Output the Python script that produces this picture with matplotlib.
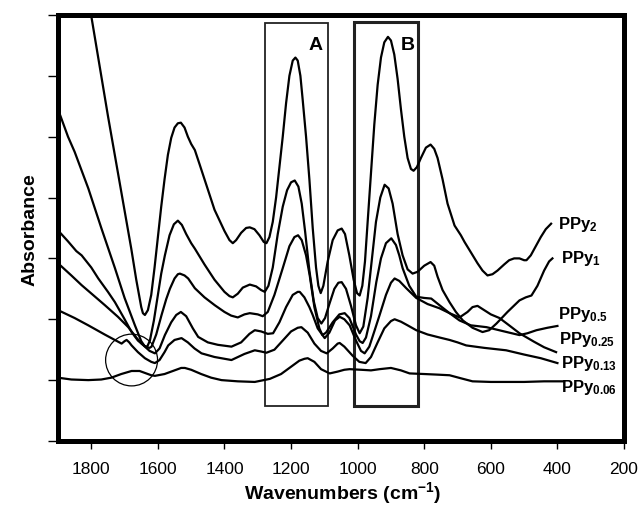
import matplotlib
matplotlib.use("Agg")
import matplotlib.pyplot as plt
from matplotlib.patches import Rectangle, Ellipse

plt.rcParams["font.family"] = ["Liberation Sans", "DejaVu Sans"]
plt.rcParams["mathtext.fontset"] = "custom"
plt.rcParams["mathtext.bf"] = "Liberation Sans:bold"
plt.rcParams["mathtext.rm"] = "Liberation Sans:bold"
plt.rcParams["mathtext.default"] = "bf"

# spectra: wavenumber (cm-1) and absorbance (arbitrary units)
wn_ppy2 = [1900, 1800, 1750, 1680, 1665, 1650, 1645, 1639, 1630, 1620, 1610, 1600, 1590,
           1580, 1570, 1560, 1550, 1540, 1531, 1520, 1510, 1500, 1489, 1475, 1460, 1430,
           1400, 1385, 1375, 1365, 1350, 1335, 1324, 1310, 1295, 1282, 1274, 1265, 1255,
           1245, 1235, 1225, 1215, 1205, 1195, 1187, 1180, 1172, 1165, 1155, 1145, 1135,
           1125, 1118, 1111, 1103, 1090, 1075, 1060, 1048, 1038, 1025, 1012, 1002, 994,
           986, 978, 970, 960, 950, 940, 930, 920, 909, 900, 890, 880, 870, 860, 850,
           840, 832, 822, 810, 795, 781, 770, 760, 745, 730, 709, 690, 679, 660, 640,
           625, 610, 595, 580, 560, 545, 530, 514, 500, 493, 480, 465, 450, 435, 419]
ab_ppy2 = [10.3, 6.98, 5.34, 3.16, 2.65, 2.2, 2.1, 2.07, 2.15, 2.4, 2.85, 3.35, 3.85,
           4.3, 4.7, 4.98, 5.15, 5.22, 5.23, 5.15, 5.0, 4.88, 4.78, 4.55, 4.3, 3.8,
           3.45, 3.3, 3.25, 3.3, 3.42, 3.5, 3.51, 3.48, 3.38, 3.27, 3.25, 3.35, 3.6,
           4.0, 4.5, 5.0, 5.55, 6.0, 6.25, 6.30, 6.25, 6.0, 5.6, 5.0, 4.3, 3.5,
           2.85, 2.55, 2.43, 2.55, 2.95, 3.3, 3.46, 3.49, 3.4, 3.05, 2.65, 2.43, 2.39,
           2.55, 2.95, 3.6, 4.4, 5.2, 5.85, 6.3, 6.55, 6.64, 6.58, 6.35, 5.95, 5.45, 5.0, 4.65,
           4.47, 4.44, 4.5, 4.65, 4.82, 4.87, 4.8, 4.65, 4.3, 3.9, 3.54, 3.38, 3.27, 3.1, 2.92,
           2.8, 2.72, 2.74, 2.8, 2.9, 2.97, 3.0, 3.0, 2.97, 2.97, 3.05, 3.2, 3.35, 3.48, 3.57]

wn_ppy1 = [1900, 1870, 1850, 1809, 1770, 1729, 1700, 1669, 1650, 1640, 1632, 1624, 1612,
           1600, 1590, 1579, 1565, 1552, 1540, 1528, 1515, 1500, 1489, 1460, 1430, 1400,
           1385, 1375, 1360, 1345, 1324, 1305, 1290, 1279, 1268, 1255, 1240, 1225, 1212,
           1200, 1189, 1178, 1168, 1158, 1145, 1132, 1120, 1109, 1098, 1085, 1070, 1058,
           1048, 1035, 1020, 1005, 994, 983, 970, 958, 945, 932, 919, 907, 895, 880, 865,
           850, 835, 820, 800, 781, 770, 760, 745, 724, 705, 684, 655, 625, 605, 583, 550,
           514, 495, 478, 460, 440, 425, 415]
ab_ppy1 = [5.45, 5.0, 4.75, 4.15, 3.5, 2.84, 2.35, 1.9, 1.64, 1.56, 1.55, 1.65, 1.98,
           2.4, 2.75, 3.05, 3.38, 3.56, 3.62, 3.55, 3.4, 3.25, 3.16, 2.9, 2.65, 2.45,
           2.38, 2.36, 2.42, 2.52, 2.57, 2.54, 2.48, 2.45, 2.55, 2.85, 3.4, 3.85, 4.12,
           4.25, 4.28, 4.18, 3.9, 3.45, 2.8, 2.3, 2.02, 1.93, 2.02, 2.25, 2.5, 2.6,
           2.61, 2.5, 2.22, 1.9, 1.77, 1.88, 2.35, 2.95, 3.6, 4.0, 4.21, 4.15, 3.9, 3.4, 3.05,
           2.82, 2.75, 2.78, 2.88, 2.94, 2.88, 2.7, 2.48, 2.28, 2.12, 1.98, 1.86, 1.79, 1.82, 1.93, 2.12,
           2.31, 2.36, 2.39, 2.55, 2.8, 2.95, 3.0]

wn_ppy05 = [1900, 1870, 1845, 1829, 1800, 1779, 1750, 1729, 1700, 1679, 1660, 1649, 1635,
            1625, 1619, 1605, 1589, 1575, 1564, 1550, 1540, 1534, 1520, 1509, 1489, 1460,
            1429, 1400, 1380, 1360, 1340, 1324, 1300, 1285, 1270, 1250, 1225, 1205, 1190,
            1179, 1168, 1155, 1144, 1130, 1115, 1106, 1095, 1075, 1055, 1039, 1025, 1005,
            994, 985, 975, 960, 944, 930, 915, 899, 885, 875, 865, 845, 824, 800, 779, 754,
            724, 694, 660, 613, 560, 514, 490, 463, 430, 400]
ab_ppy05 = [3.46, 3.28, 3.12, 3.05, 2.85, 2.67, 2.45, 2.28, 2.0, 1.79, 1.65, 1.6, 1.54,
            1.53, 1.55, 1.75, 2.07, 2.33, 2.5, 2.67, 2.74, 2.75, 2.72, 2.67, 2.51, 2.36,
            2.23, 2.12, 2.06, 2.03, 2.08, 2.10, 2.08, 2.05, 2.12, 2.4, 2.84, 3.2, 3.35,
            3.38, 3.3, 3.05, 2.72, 2.2, 1.85, 1.74, 1.78, 1.95, 2.08, 2.10, 2.02, 1.75,
            1.64, 1.61, 1.7, 2.05, 2.61, 3.0, 3.25, 3.33, 3.22, 3.05, 2.84, 2.55, 2.37, 2.35, 2.34, 2.23,
            2.1, 1.98, 1.9, 1.87, 1.8, 1.74, 1.77, 1.82, 1.86, 1.89]

wn_ppy025 = [1900, 1860, 1829, 1795, 1759, 1720, 1689, 1665, 1649, 1625, 1609, 1595, 1579,
             1560, 1545, 1531, 1515, 1495, 1479, 1450, 1420, 1379, 1350, 1325, 1309, 1290,
             1270, 1254, 1235, 1215, 1195, 1180, 1174, 1160, 1145, 1135, 1120, 1099, 1085,
             1068, 1054, 1040, 1024, 1005, 990, 979, 965, 950, 934, 915, 900, 889, 875, 854,
             824, 790, 754, 724, 694, 670, 655, 640, 620, 600, 574, 545, 514, 470, 440, 404]
ab_ppy025 = [2.92, 2.72, 2.56, 2.4, 2.23, 2.04, 1.87, 1.7, 1.6, 1.48, 1.44, 1.52, 1.74,
             1.95, 2.07, 2.12, 2.05, 1.85, 1.71, 1.62, 1.58, 1.55, 1.62, 1.76, 1.82, 1.8,
             1.76, 1.77, 1.95, 2.2, 2.4, 2.45, 2.45, 2.36, 2.2, 2.07, 1.85, 1.69, 1.78,
             1.98, 2.04, 2.0, 1.9, 1.65, 1.48, 1.44, 1.55, 1.8, 2.07, 2.4, 2.6, 2.67, 2.63, 2.51,
             2.35, 2.25, 2.18, 2.1, 2.03, 2.12, 2.2, 2.22, 2.15, 2.08, 2.02, 1.9, 1.77, 1.63, 1.54, 1.46]

wn_ppy013 = [1900, 1850, 1809, 1760, 1709, 1700, 1694, 1686, 1679, 1660, 1639, 1620, 1609,
             1595, 1580, 1569, 1550, 1529, 1510, 1490, 1469, 1430, 1379, 1340, 1309, 1290,
             1274, 1250, 1225, 1200, 1180, 1169, 1150, 1130, 1110, 1093, 1075, 1060, 1054,
             1040, 1015, 995, 976, 960, 940, 920, 900, 889, 870, 850, 824, 790, 754, 724,
             700, 674, 620, 554, 500, 450, 400]
ab_ppy013 = [2.15, 2.02, 1.9, 1.75, 1.6, 1.64, 1.66, 1.62, 1.57, 1.46, 1.36, 1.3, 1.28,
             1.33, 1.46, 1.57, 1.66, 1.69, 1.62, 1.52, 1.44, 1.38, 1.33, 1.43, 1.49, 1.47,
             1.45, 1.5, 1.65, 1.8, 1.86, 1.87, 1.78, 1.6, 1.48, 1.44, 1.52, 1.6, 1.61,
             1.55, 1.4, 1.3, 1.28, 1.38, 1.62, 1.85, 1.97, 2.0, 1.96, 1.9, 1.82, 1.75, 1.7, 1.66,
             1.62, 1.57, 1.53, 1.49, 1.42, 1.36, 1.28]

wn_ppy006 = [1900, 1860, 1809, 1770, 1740, 1710, 1679, 1655, 1640, 1620, 1609, 1580, 1550,
             1530, 1519, 1500, 1470, 1440, 1409, 1360, 1309, 1264, 1230, 1200, 1175, 1160,
             1150, 1130, 1110, 1084, 1060, 1040, 1024, 990, 960, 934, 900, 870, 844, 800,
             760, 724, 690, 655, 600, 550, 500, 440, 380]
ab_ppy006 = [1.04, 1.01, 1.0, 1.01, 1.04, 1.1, 1.15, 1.15, 1.12, 1.08, 1.07, 1.1, 1.16,
             1.2, 1.2, 1.17, 1.1, 1.04, 1.0, 0.98, 0.97, 1.02, 1.1, 1.22, 1.32, 1.35,
             1.36, 1.3, 1.18, 1.11, 1.14, 1.17, 1.18, 1.17, 1.16, 1.18, 1.2, 1.16, 1.11, 1.1,
             1.09, 1.08, 1.03, 0.98, 0.97, 0.97, 0.97, 0.98, 0.98]

labels = ["PPy$_{2}$", "PPy$_{1}$", "PPy$_{0.5}$", "PPy$_{0.25}$", "PPy$_{0.13}$", "PPy$_{0.06}$"]
label_x = [397, 389, 397, 394, 389, 389]
label_y = [3.48, 2.92, 2.01, 1.60, 1.20, 0.80]

series = [(wn_ppy2, ab_ppy2), (wn_ppy1, ab_ppy1), (wn_ppy05, ab_ppy05),
          (wn_ppy025, ab_ppy025), (wn_ppy013, ab_ppy013), (wn_ppy006, ab_ppy006)]

fig = plt.figure(figsize=(6.41, 5.21), dpi=100)
ax = fig.add_axes([0.0905, 0.1536, 0.883, 0.8177])

for wn, ab in series:
    ax.plot(wn, ab, color="black", lw=1.6, solid_joinstyle="round")

for text, x, y in zip(labels, label_x, label_y):
    ax.text(x, y, text, fontsize=12, fontweight="bold", ha="left", va="baseline")

# marked bands A and B, and the circled isosbestic region
ax.add_patch(Rectangle((1089, 0.58), 190, 6.29, fill=False, lw=1.3, ec="#222222"))
ax.add_patch(Rectangle((819, 0.58), 192, 6.31, fill=False, lw=2.2, ec="#222222"))
ax.text(1126, 6.49, "A", fontsize=14, fontweight="bold", ha="center", va="center")
ax.text(850, 6.49, "B", fontsize=14, fontweight="bold", ha="center", va="center")
ax.add_patch(Ellipse((1679, 1.33), 156, 0.85, fill=False, lw=0.9, ec="black"))

ax.set_xlim(1900, 200)
ax.set_ylim(0, 7)
ax.set_xticks(range(1800, 199, -200))
ax.set_yticks(range(0, 8))
ax.set_yticklabels([])
ax.tick_params(axis="x", direction="out", length=6, width=1, labelsize=12.5, pad=9)
ax.tick_params(axis="y", direction="out", length=7, width=1)
for sp in ax.spines.values():
    sp.set_linewidth(3.6)

fig.text(0.047, 0.56, "Absorbance", rotation=90, fontsize=14, fontweight="bold",
         ha="center", va="center")
fig.text(0.534, 0.054, "Wavenumbers (cm$^{-1}$)", fontsize=14, fontweight="bold",
         ha="center", va="center")

fig.savefig("out.png", dpi=100)
